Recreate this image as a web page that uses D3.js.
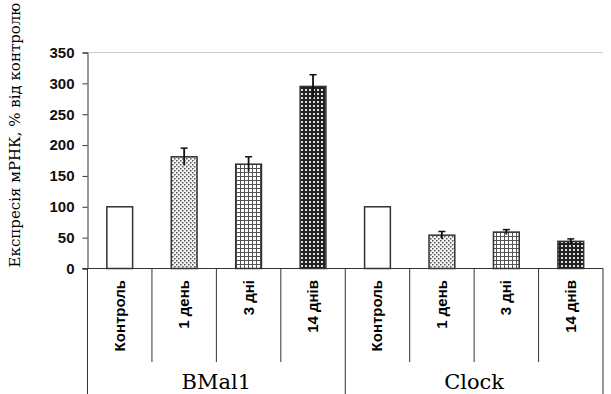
<!DOCTYPE html>
<html>
<head>
<meta charset="utf-8">
<script src="https://cdn.jsdelivr.net/npm/d3@7"></script>
<style>
  body { margin: 0; background: #fff; }
</style>
</head>
<body>
<div id="chart"></div>
<script>
var groups = ["BMal1", "Clock"];
var categories = ["Контроль", "1 день", "3 дні", "14 днів"];
var bmalValues = [100, 181, 169, 295];
var bmalErrors = [0, 14, 12, 19];
var clockValues = [100, 54, 59, 44];
var clockErrors = [0, 6, 4, 4];
var yTicks = [0, 50, 100, 150, 200, 250, 300, 350];
var patterns = ["none", "dots", "grid", "checker"];

var rows = [];
groups.forEach(function(g, gi) {
  var vals = gi == 0 ? bmalValues : clockValues;
  var errs = gi == 0 ? bmalErrors : clockErrors;
  categories.forEach(function(c, ci) {
    rows.push({ group: g, cat: c, value: vals[ci], err: errs[ci], pat: patterns[ci] });
  });
});

var svg = d3.select("#chart").append("svg")
            .attr("width", 611)
            .attr("height", 394);

var defs = svg.append("defs");

var p1 = defs.append("pattern").attr("id", "dots")
             .attr("width", 4).attr("height", 4)
             .attr("patternUnits", "userSpaceOnUse");
p1.append("rect").attr("width", 4).attr("height", 4).attr("fill", "#f4f4f4");
p1.append("rect").attr("x", 0).attr("y", 0).attr("width", 1.5).attr("height", 1.5).attr("fill", "#555");
p1.append("rect").attr("x", 2).attr("y", 2).attr("width", 1.5).attr("height", 1.5).attr("fill", "#555");

var p2 = defs.append("pattern").attr("id", "grid")
             .attr("width", 4).attr("height", 4)
             .attr("patternUnits", "userSpaceOnUse");
p2.append("rect").attr("width", 4).attr("height", 4).attr("fill", "#fff");
p2.append("line").attr("x1", 0.5).attr("x2", 0.5).attr("y1", 0).attr("y2", 4).attr("stroke", "#555").attr("stroke-width", 1);
p2.append("line").attr("x1", 0).attr("x2", 4).attr("y1", 0.5).attr("y2", 0.5).attr("stroke", "#555").attr("stroke-width", 1);

var p3 = defs.append("pattern").attr("id", "checker")
             .attr("width", 4).attr("height", 4)
             .attr("patternUnits", "userSpaceOnUse");
p3.append("rect").attr("width", 4).attr("height", 4).attr("fill", "#222");
p3.append("rect").attr("x", 1).attr("y", 1).attr("width", 2).attr("height", 2).attr("fill", "#ddd");

var plotLeft = 87.5, plotRight = 603, plotTop = 52.5, plotBottom = 268.5;

var y = d3.scaleLinear().domain([0, 350]).range([plotBottom, plotTop]);
var x0 = d3.scaleBand().domain(groups).range([plotLeft, plotRight]);
var x1 = d3.scaleBand().domain(categories).range([0, x0.bandwidth()])
           .paddingInner(0.6).paddingOuter(0.3);

function barMid(d) { return x0(d.group) + x1(d.cat) + x1.bandwidth() / 2; }

// top grid line
svg.append("line")
   .attr("x1", plotLeft).attr("x2", plotRight)
   .attr("y1", y(350)).attr("y2", y(350))
   .attr("stroke", "#ccc").attr("stroke-width", 1);

// y axis
var yAxis = svg.append("g")
   .attr("transform", "translate(" + plotLeft + ",0)")
   .call(d3.axisLeft(y).tickValues(yTicks).tickSize(5).tickPadding(8));
yAxis.select(".domain").attr("stroke", "#333");
yAxis.selectAll(".tick line").attr("stroke", "#333");
yAxis.selectAll("text")
     .style("font-family", "'Liberation Sans', Arial, sans-serif")
     .style("font-weight", "bold")
     .style("font-size", "15px")
     .attr("fill", "#111");

// bars
svg.selectAll(".bar")
   .data(rows)
   .enter()
   .append("rect")
   .attr("class", "bar")
   .attr("x", function(d) { return x0(d.group) + x1(d.cat); })
   .attr("y", function(d) { return y(d.value); })
   .attr("width", x1.bandwidth())
   .attr("height", function(d) { return plotBottom - y(d.value); })
   .attr("fill", function(d) { return d.pat == "none" ? "#fff" : "url(#" + d.pat + ")"; })
   .attr("stroke", "#333")
   .attr("stroke-width", 1.5);

// error bars
var errs = svg.selectAll(".err")
   .data(rows.filter(function(d) { return d.err > 0; }))
   .enter()
   .append("g")
   .attr("class", "err");
errs.append("line")
    .attr("x1", barMid).attr("x2", barMid)
    .attr("y1", function(d) { return y(d.value - d.err); })
    .attr("y2", function(d) { return y(d.value + d.err); })
    .attr("stroke", "#111").attr("stroke-width", 1.8);
errs.append("line")
    .attr("x1", function(d) { return barMid(d) - 3.5; })
    .attr("x2", function(d) { return barMid(d) + 3.5; })
    .attr("y1", function(d) { return y(d.value + d.err); })
    .attr("y2", function(d) { return y(d.value + d.err); })
    .attr("stroke", "#111").attr("stroke-width", 1.5);

// x axis line
svg.append("line")
   .attr("x1", plotLeft - 5).attr("x2", plotRight)
   .attr("y1", plotBottom).attr("y2", plotBottom)
   .attr("stroke", "#333").attr("stroke-width", 1.2);

// category separators
groups.forEach(function(g) {
  categories.forEach(function(c, i) {
    if (i == 0) return;
    var xx = x0(g) + x0.bandwidth() * i / categories.length;
    svg.append("line")
       .attr("x1", xx).attr("x2", xx)
       .attr("y1", plotBottom).attr("y2", 362)
       .attr("stroke", "#333").attr("stroke-width", 1);
  });
});
// group separators
groups.concat(["end"]).forEach(function(g, i) {
  var xx = i < groups.length ? x0(g) : plotRight;
  svg.append("line")
     .attr("x1", xx).attr("x2", xx)
     .attr("y1", plotBottom).attr("y2", 394)
     .attr("stroke", "#333").attr("stroke-width", 1);
});

// category labels
svg.selectAll(".catlabel")
   .data(rows)
   .enter()
   .append("text")
   .attr("class", "catlabel")
   .attr("transform", function(d) {
     return "translate(" + (barMid(d) + 5) + ",280) rotate(-90)";
   })
   .attr("text-anchor", "end")
   .style("font-family", "'Liberation Sans', Arial, sans-serif")
   .style("font-weight", "bold")
   .style("font-size", "15px")
   .text(function(d) { return d.cat; });

// group labels
svg.selectAll(".grouplabel")
   .data(groups)
   .enter()
   .append("text")
   .attr("class", "grouplabel")
   .attr("x", function(d) { return x0(d) + x0.bandwidth() / 2; })
   .attr("y", 389)
   .attr("text-anchor", "middle")
   .style("font-family", "'DejaVu Serif', serif")
   .style("font-size", "21px")
   .text(function(d) { return d; });

// y axis title
svg.append("text")
   .attr("transform", "translate(20,135) rotate(-90)")
   .attr("text-anchor", "middle")
   .style("font-family", "'DejaVu Serif', serif")
   .style("font-size", "15px")
   .text("Експресія мРНК, % від контролю");
</script>
</body>
</html>
